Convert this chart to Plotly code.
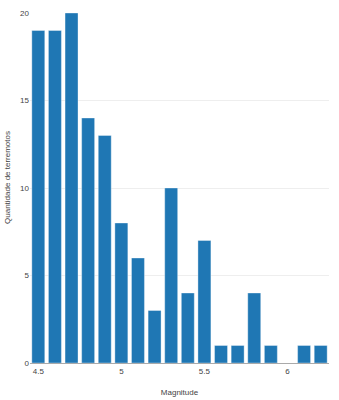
import plotly.graph_objects as go

# Earthquake counts per 0.1 magnitude bin (bin centres)
magnitudes = [4.5, 4.6, 4.7, 4.8, 4.9, 5.0, 5.1, 5.2, 5.3, 5.4, 5.5, 5.6, 5.7, 5.8, 5.9, 6.0, 6.1, 6.2]
counts = [19, 19, 20, 14, 13, 8, 6, 3, 10, 4, 7, 1, 1, 4, 1, 0, 1, 1]
x_ticks = [4.5, 5, 5.5, 6]
x_tick_labels = ["4.5", "5", "5.5", "6"]
y_ticks = [0, 5, 10, 15, 20]

fig = go.Figure(
    go.Bar(
        x=magnitudes,
        y=counts,
        width=0.078,
        marker=dict(color="#1f77b4", line=dict(color="rgba(255,255,255,0.35)", width=1)),
    )
)

fig.update_layout(
    width=339,
    height=400,
    margin=dict(l=30, r=10, t=13, b=37, autoexpand=False),
    paper_bgcolor="white",
    plot_bgcolor="white",
    showlegend=False,
    font=dict(family="Liberation Sans, Arial, sans-serif", size=8, color="#444"),
)

fig.update_xaxes(
    range=[4.45, 6.25],
    tickvals=x_ticks,
    ticktext=x_tick_labels,
    showgrid=False,
    zeroline=False,
    showline=True,
    linecolor="#aaa",
    linewidth=1,
    ticks="",
    automargin=False,
    tickfont=dict(size=8, color="#444"),
    title=dict(text="Magnitude", font=dict(size=8, color="#444"), standoff=14),
)

fig.update_yaxes(
    range=[0, 20],
    tickvals=y_ticks,
    showgrid=True,
    gridcolor="#eee",
    zeroline=False,
    ticks="",
    automargin=False,
    tickfont=dict(size=8, color="#444"),
)

# Vertical axis label, set slightly above the plot's middle
fig.add_annotation(
    text="Quantidade de terremotos",
    textangle=-90,
    xref="paper", yref="paper",
    x=-30 / 298.5 + 8 / 298.5, y=(363 - 177) / 350,
    xanchor="center", yanchor="middle",
    showarrow=False,
    font=dict(size=8, color="#444"),
)

fig.write_html("out.html")
